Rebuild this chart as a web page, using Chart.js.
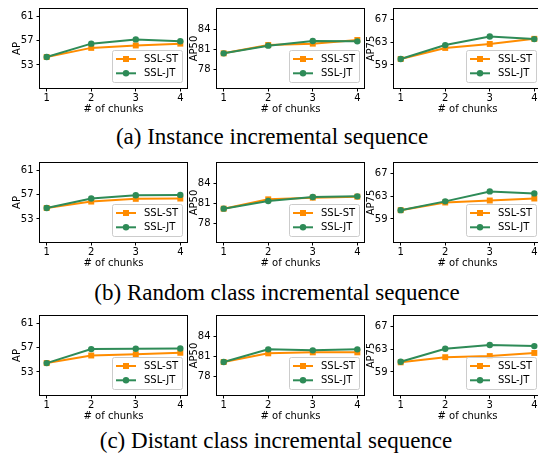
<!DOCTYPE html>
<html>
<head>
<meta charset="utf-8">
<script src="https://cdn.jsdelivr.net/npm/chart.js@4.4.0/dist/chart.umd.min.js"></script>
<style>
  html, body { margin: 0; padding: 0; background: #fff; overflow: hidden; }
  #page { position: relative; width: 538px; height: 462px; overflow: hidden; }
  #page canvas { position: absolute; }
  .caption {
    position: absolute;
    font-family: 'Liberation Serif', 'Times New Roman', serif;
    font-size: 23px;
    line-height: 23px;
    white-space: pre;
    color: #000;
    transform: translateX(-50%);
  }
</style>
</head>
<body>
<div id="page">
  <div class="caption" style="left:272px; top:125px">(a) Instance incremental sequence</div>
  <div class="caption" style="left:277px; top:281px">(b) Random class incremental sequence</div>
  <div class="caption" style="left:276px; top:429px">(c) Distant class incremental sequence</div>
</div>
<script>
// x axis
const chunks = [1, 2, 3, 4];

// y tick labels
const apTicks = [53, 57, 61];
const ap50Ticks = [78, 81, 84];
const ap75Ticks = [59, 63, 67];

// (a) Instance incremental sequence
const instanceST_AP = [54.3, 55.8, 56.2, 56.5];
const instanceJT_AP = [54.3, 56.5, 57.2, 56.9];
const instanceST_AP50 = [80.45, 81.7, 81.9, 82.45];
const instanceJT_AP50 = [80.45, 81.6, 82.3, 82.25];
const instanceST_AP75 = [60.05, 62.0, 62.7, 63.6];
const instanceJT_AP75 = [60.05, 62.5, 64.0, 63.55];

// (b) Random class incremental sequence
const randomST_AP = [54.8, 55.85, 56.3, 56.35];
const randomJT_AP = [54.8, 56.35, 56.9, 56.95];
const randomST_AP50 = [80.25, 81.65, 81.9, 82.05];
const randomJT_AP50 = [80.25, 81.4, 82.0, 82.1];
const randomST_AP75 = [60.55, 61.9, 62.25, 62.6];
const randomJT_AP75 = [60.55, 62.1, 63.85, 63.5];

// (c) Distant class incremental sequence
const distantST_AP = [54.45, 55.7, 55.9, 56.15];
const distantJT_AP = [54.45, 56.75, 56.8, 56.85];
const distantST_AP50 = [80.2, 81.5, 81.65, 81.65];
const distantJT_AP50 = [80.2, 82.1, 81.95, 82.1];
const distantST_AP75 = [60.7, 61.6, 61.8, 62.35];
const distantJT_AP75 = [60.8, 63.1, 63.75, 63.55];

const orange = '#ff8c00';
const green = '#2e8b57';

Chart.defaults.font.family = "'DejaVu Sans', sans-serif";
Chart.defaults.font.size = 10;
Chart.defaults.color = '#000';

// plot-area placement of the 3x3 grid
const colLeft = [40, 217, 394];
const rowTop = [7, 161, 314];
const plotW = 147;
const plotH = 81;

// box round the plot and the legend in the lower right corner
const framePlugin = {
  id: 'frame',
  afterDatasetsDraw(chart) {
    const ctx = chart.ctx;
    const a = chart.chartArea;
    ctx.save();
    ctx.strokeStyle = '#000';
    ctx.lineWidth = 1;
    ctx.strokeRect(Math.round(a.left) - 0.5, Math.round(a.top) - 0.5,
      Math.round(a.right - a.left) + 1, Math.round(a.bottom - a.top) + 1);

    const w = 70, h = 32;
    const x = a.right - 5 - w;
    const y = a.bottom - 6 - h;
    ctx.beginPath();
    ctx.roundRect(x + 0.5, y + 0.5, w, h, 2);
    ctx.fillStyle = 'rgba(255,255,255,0.8)';
    ctx.fill();
    ctx.strokeStyle = '#cccccc';
    ctx.stroke();

    const items = [
      { text: 'SSL-ST', color: orange, shape: 'rect' },
      { text: 'SSL-JT', color: green, shape: 'circle' }
    ];
    items.forEach((it, i) => {
      const yy = y + 9 + i * 14.3;
      ctx.strokeStyle = it.color;
      ctx.lineWidth = 2;
      ctx.beginPath();
      ctx.moveTo(x + 4, yy);
      ctx.lineTo(x + 24, yy);
      ctx.stroke();
      ctx.fillStyle = it.color;
      ctx.beginPath();
      if (it.shape === 'rect') {
        ctx.rect(x + 14 - 3, yy - 3, 6, 6);
      } else {
        ctx.arc(x + 14, yy, 3.2, 0, Math.PI * 2);
      }
      ctx.fill();
      ctx.fillStyle = '#000';
      ctx.font = "10px 'DejaVu Sans'";
      ctx.textBaseline = 'middle';
      ctx.textAlign = 'left';
      ctx.fillText(it.text, x + 32, yy + 0.5);
    });
    ctx.restore();
  }
};

function makeChart(row, col, st, jt, yMin, yMax, yTicks, yTitle) {
  const canvas = document.createElement('canvas');
  const cw = 40 + plotW + 12;
  const ch = 7 + plotH + 28;
  canvas.width = cw;
  canvas.height = ch;
  canvas.style.width = cw + 'px';
  canvas.style.height = ch + 'px';
  canvas.style.left = (colLeft[col] - 40) + 'px';
  canvas.style.top = (rowTop[row] - 7) + 'px';
  document.getElementById('page').appendChild(canvas);

  return new Chart(canvas, {
    type: 'line',
    data: {
      datasets: [{
        label: 'SSL-ST',
        data: chunks.map((c, i) => ({ x: c, y: st[i] })),
        borderColor: orange,
        backgroundColor: orange,
        borderWidth: 2,
        pointStyle: 'rect',
        pointRadius: 4.2,
        pointBorderWidth: 0,
        tension: 0,
        order: 1
      }, {
        label: 'SSL-JT',
        data: chunks.map((c, i) => ({ x: c, y: jt[i] })),
        borderColor: green,
        backgroundColor: green,
        borderWidth: 2,
        pointStyle: 'circle',
        pointRadius: 3.2,
        pointBorderWidth: 0,
        tension: 0,
        order: 0
      }]
    },
    options: {
      responsive: false,
      animation: false,
      devicePixelRatio: 1,
      layout: { padding: { top: 7, right: 12, left: 0, bottom: 0 } },
      plugins: {
        legend: { display: false },
        tooltip: { enabled: false }
      },
      scales: {
        x: {
          type: 'linear',
          min: 0.85,
          max: 4.15,
          afterBuildTicks: s => { s.ticks = chunks.map(v => ({ value: v })); },
          afterFit: s => { s.height = 28; },
          grid: { drawOnChartArea: false, drawTicks: true, tickLength: 3.5, color: '#000', lineWidth: 1 },
          border: { display: false },
          ticks: { padding: 1, maxRotation: 0, autoSkip: false },
          title: { display: true, text: '# of chunks', padding: { top: 0, bottom: 0.5 } }
        },
        y: {
          min: yMin,
          max: yMax,
          afterBuildTicks: s => { s.ticks = yTicks.map(v => ({ value: v })); },
          afterFit: s => { s.width = 40; },
          grid: { drawOnChartArea: false, drawTicks: true, tickLength: 3.5, color: '#000', lineWidth: 1 },
          border: { display: false },
          ticks: { padding: 3, autoSkip: false },
          title: { display: true, text: yTitle, padding: { top: 11.5, bottom: 0 } }
        }
      }
    },
    plugins: [framePlugin]
  });
}

const apRange = [49.2, 62.2];
const ap50Range = [75.25, 87.1];
const ap75Range = [54.95, 68.85];

makeChart(0, 0, instanceST_AP, instanceJT_AP, apRange[0], apRange[1], apTicks, 'AP');
makeChart(0, 1, instanceST_AP50, instanceJT_AP50, ap50Range[0], ap50Range[1], ap50Ticks, 'AP50');
makeChart(0, 2, instanceST_AP75, instanceJT_AP75, ap75Range[0], ap75Range[1], ap75Ticks, 'AP75');

makeChart(1, 0, randomST_AP, randomJT_AP, apRange[0], apRange[1], apTicks, 'AP');
makeChart(1, 1, randomST_AP50, randomJT_AP50, ap50Range[0], ap50Range[1], ap50Ticks, 'AP50');
makeChart(1, 2, randomST_AP75, randomJT_AP75, ap75Range[0], ap75Range[1], ap75Ticks, 'AP75');

makeChart(2, 0, distantST_AP, distantJT_AP, apRange[0], apRange[1], apTicks, 'AP');
makeChart(2, 1, distantST_AP50, distantJT_AP50, ap50Range[0], ap50Range[1], ap50Ticks, 'AP50');
makeChart(2, 2, distantST_AP75, distantJT_AP75, ap75Range[0], ap75Range[1], ap75Ticks, 'AP75');
</script>
</body>
</html>
